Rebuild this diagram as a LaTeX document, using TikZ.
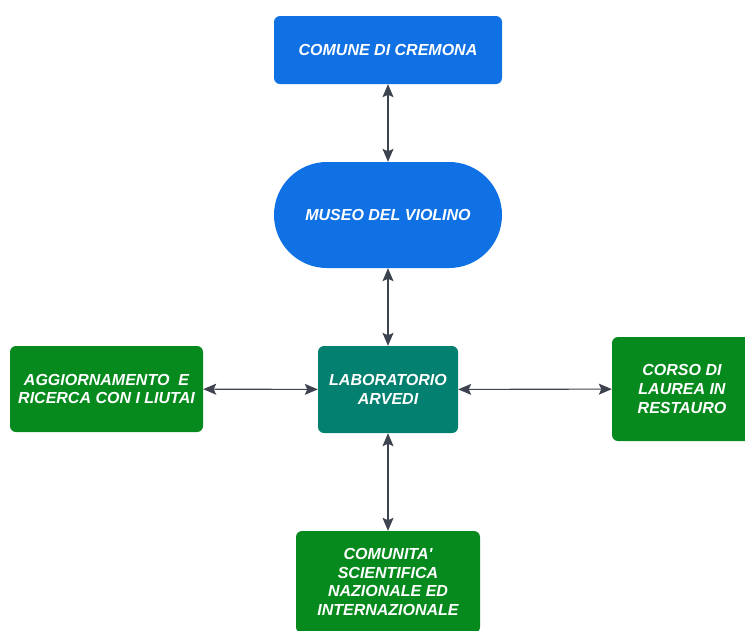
\documentclass[tikz,border=0pt]{standalone}
\usepackage{fontspec}
\setmainfont{Liberation Sans}
\usetikzlibrary{arrows.meta}
\definecolor{cblue}{HTML}{1071E5}
\definecolor{cteal}{HTML}{03806F}
\definecolor{cgreen}{HTML}{078A1D}
\definecolor{carrow}{HTML}{3D4450}
\tikzset{
  box/.style={rounded corners=6pt, text=white, align=center, inner sep=0pt,
    font=\fontsize{16}{18.7}\selectfont\bfseries\itshape},
  tipshape/.style={Stealth[length=13pt,width=11pt,inset=2.5pt]},
  conn/.style={draw=carrow, line width=1.1pt, {Stealth[length=13pt,width=11pt,inset=2.5pt]}-{Stealth[length=13pt,width=11pt,inset=2.5pt]}}
}
\begin{document}
\begin{tikzpicture}[x=1pt,y=-1pt]
\useasboundingbox (0,0) rectangle (745,630);
\node[box, fill=cblue, minimum width=228pt, minimum height=68pt] (comune) at (388,50) {COMUNE DI CREMONA};
\node[box, fill=cblue, minimum width=228pt, minimum height=106pt, rounded corners=53pt] (museo) at (388,215) {MUSEO DEL VIOLINO};
\node[box, fill=cteal, minimum width=140pt, minimum height=87pt] (lab) at (388,389.5) {LABORATORIO\\ARVEDI};
\node[box, fill=cgreen, minimum width=193pt, minimum height=86pt] (agg) at (106.5,389) {AGGIORNAMENTO \ E\\RICERCA CON I LIUTAI};
\node[box, fill=cgreen, minimum width=140pt, minimum height=104pt] (corso) at (682,389) {CORSO DI\\LAUREA IN\\RESTAURO};
\node[box, fill=cgreen, minimum width=184pt, minimum height=102pt] (comunita) at (388,582) {COMUNITA\textquotesingle\\SCIENTIFICA\\NAZIONALE ED\\INTERNAZIONALE};
\draw[conn] (comune) -- (museo);
\draw[conn] (museo) -- (lab);
\draw[conn] (lab) -- (comunita);
\draw[conn] (agg) -- (lab);
\draw[conn] (lab) -- (corso);
\end{tikzpicture}
\end{document}
